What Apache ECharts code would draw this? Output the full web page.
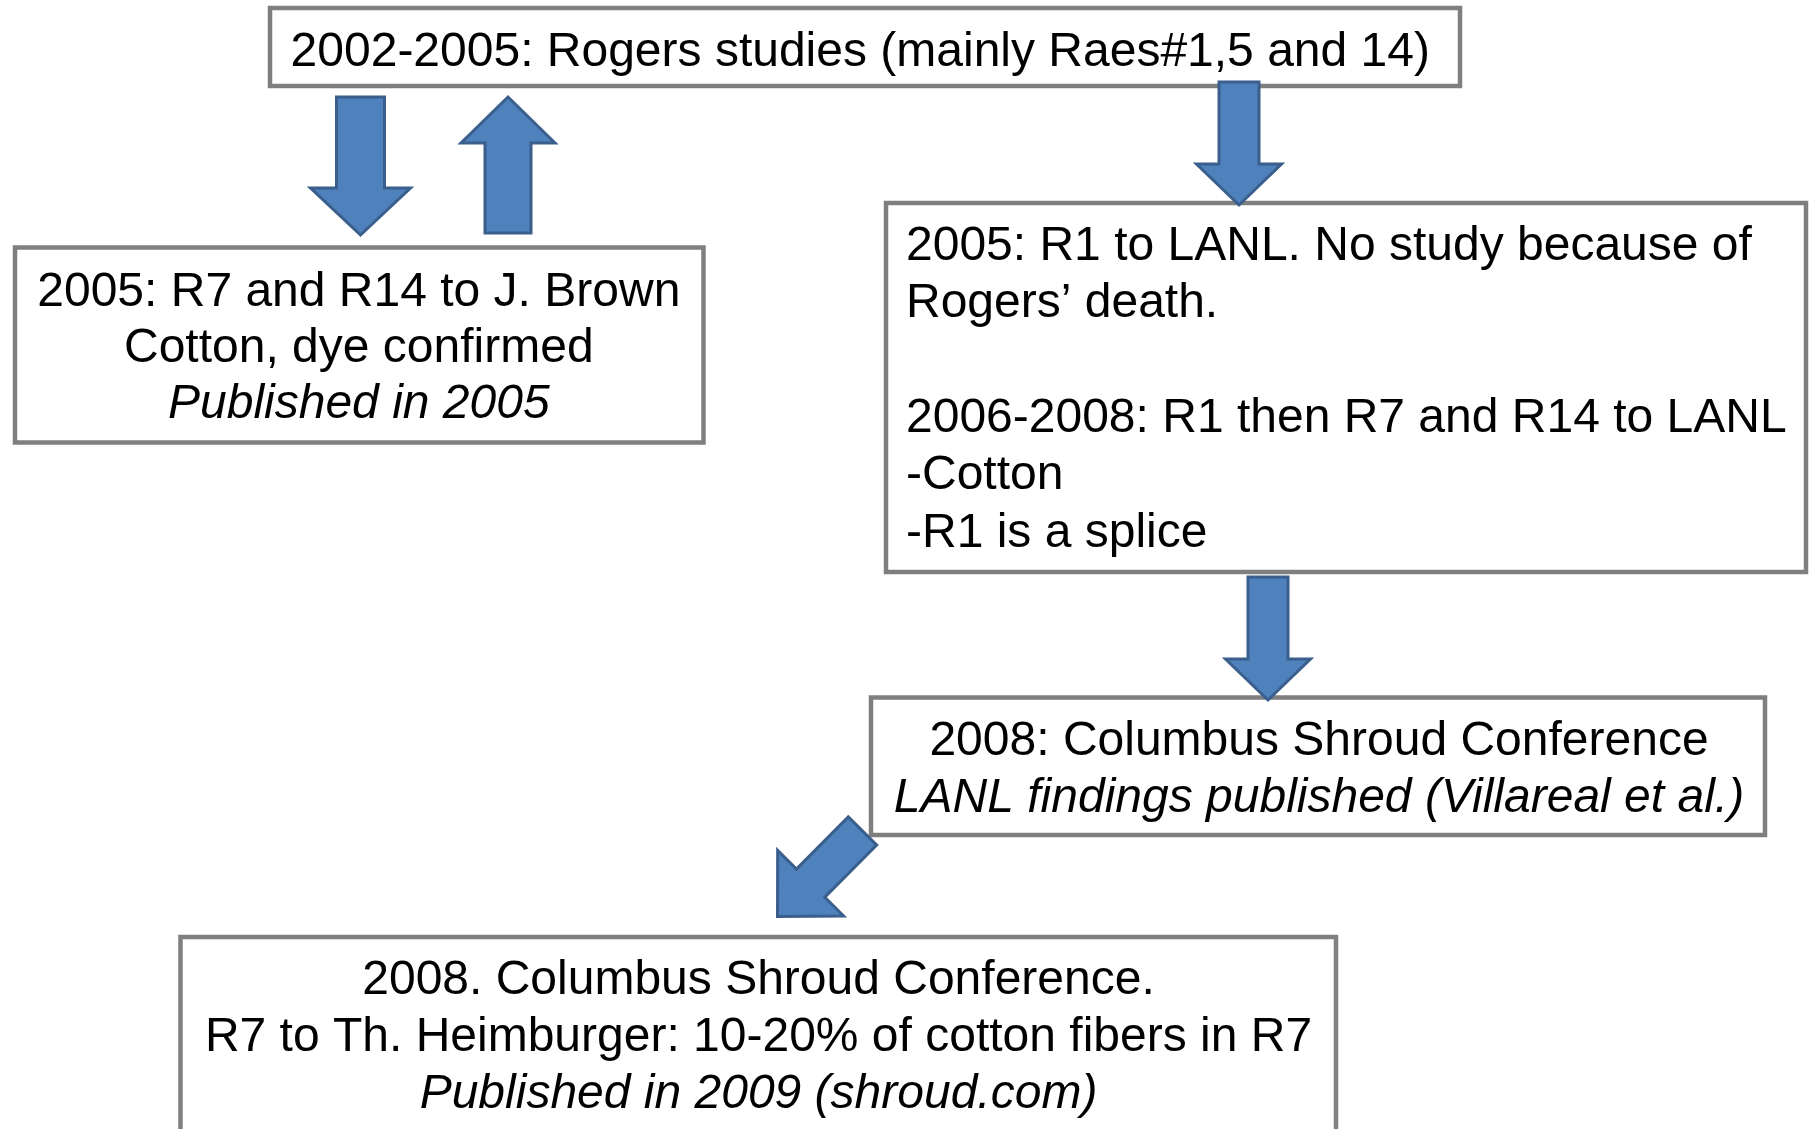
<!DOCTYPE html>
<html>
<head>
<meta charset="utf-8">
<title>Raes samples</title>
<script src="https://cdn.jsdelivr.net/npm/echarts@6/dist/echarts.min.js"></script>
<style>
html, body { margin: 0; padding: 0; background: #fff; }
#main { width: 1809px; height: 1129px; }
</style>
</head>
<body>
<div id="main"></div>
<script>
// box frames [x0, y0, x1, y1] in diagram units (1 unit = 1 px of the picture)
var boxes = [
    [270, 8, 1460, 86],
    [15, 247.5, 703.5, 442.5],
    [886, 203, 1806, 572],
    [871, 697.5, 1765, 835],
    [180.5, 937, 1336, 1145]
];

// block arrows [tailX, tailY, tipX, tipY]
var arrows = [
    [360.5, 97, 360.5, 235],
    [508, 233, 508, 97],
    [1239, 82, 1239, 205],
    [1268, 577, 1268, 700],
    [862.5, 831, 777.5, 916.5]
];
var shaftWidth = [48, 46, 40, 40, 40];
var headWidth = [100, 94, 85, 85, 93];
var headLength = [47, 46, 41, 41, 47];

// text lines: text, italic flag, align, anchor [x, baseline]
var lineText = [
    '2002-2005: Rogers studies (mainly Raes#1,5 and 14)',
    '2005: R7 and R14 to J. Brown',
    'Cotton, dye confirmed',
    'Published in 2005',
    '2005: R1 to LANL. No study because of',
    'Rogers\u2019 death.',
    '2006-2008: R1 then R7 and R14 to LANL',
    '-Cotton',
    '-R1 is a splice',
    '2008: Columbus Shroud Conference',
    'LANL findings published (Villareal et al.)',
    '2008. Columbus Shroud Conference.',
    'R7 to Th. Heimburger: 10-20% of cotton fibers in R7',
    'Published in 2009 (shroud.com)'
];
var lineItalic = [0, 0, 0, 1, 0, 0, 0, 0, 0, 0, 1, 0, 0, 1];
var lineAlign = ['left', 'center', 'center', 'center', 'left', 'left', 'left', 'left', 'left',
    'center', 'center', 'center', 'center', 'center'];
var lineAnchor = [
    [290.6, 65.7],
    [358.8, 306], [358.8, 362], [358.8, 418],
    [906, 260], [906, 317], [906, 432], [906, 489], [906, 547],
    [1319, 755], [1319, 812],
    [758.5, 994], [758.5, 1051], [758.5, 1108]
];

var FONT = 48;
var chart = echarts.init(document.getElementById('main'));

function renderBox(params, api) {
    var b = boxes[params.dataIndex];
    var p0 = api.coord([b[0], b[1]]);
    var p1 = api.coord([b[2], b[3]]);
    return {
        type: 'rect',
        shape: { x: p0[0], y: p0[1], width: p1[0] - p0[0], height: p1[1] - p0[1] },
        style: { fill: '#ffffff', stroke: '#7f7f7f', lineWidth: 4.5 }
    };
}

function renderArrow(params, api) {
    var i = params.dataIndex;
    var a = arrows[i];
    var t = api.coord([a[0], a[1]]);
    var h = api.coord([a[2], a[3]]);
    var dx = h[0] - t[0], dy = h[1] - t[1];
    var len = Math.sqrt(dx * dx + dy * dy);
    var ux = dx / len, uy = dy / len;
    var nx = -uy, ny = ux;
    var sw = shaftWidth[i] / 2, hw = headWidth[i] / 2, hl = headLength[i];
    var neck = [h[0] - ux * hl, h[1] - uy * hl];
    var pts = [
        [t[0] + nx * sw, t[1] + ny * sw],
        [neck[0] + nx * sw, neck[1] + ny * sw],
        [neck[0] + nx * hw, neck[1] + ny * hw],
        h,
        [neck[0] - nx * hw, neck[1] - ny * hw],
        [neck[0] - nx * sw, neck[1] - ny * sw],
        [t[0] - nx * sw, t[1] - ny * sw]
    ];
    return {
        type: 'polygon',
        shape: { points: pts },
        style: { fill: '#4f81bd', stroke: '#3a5f8d', lineWidth: 3, lineJoin: 'miter' }
    };
}

function renderLine(params, api) {
    var i = params.dataIndex;
    var p = api.coord(lineAnchor[i]);
    return {
        type: 'text',
        x: p[0],
        y: p[1] - FONT * 0.275,
        style: {
            text: lineText[i],
            fill: '#000000',
            font: (lineItalic[i] ? 'italic ' : '') + FONT + 'px "Liberation Sans", Arial, sans-serif',
            align: lineAlign[i],
            verticalAlign: 'middle'
        }
    };
}

option = {
    backgroundColor: '#ffffff',
    animation: false,
    grid: { left: 0, right: 0, top: 0, bottom: 0 },
    xAxis: { type: 'value', min: 0, max: 1809, show: false },
    yAxis: { type: 'value', min: 0, max: 1129, inverse: true, show: false },
    series: [
        {
            type: 'custom',
            renderItem: renderBox,
            clip: false,
            data: boxes.map(function (b) { return [b[0], b[1]]; })
        },
        {
            type: 'custom',
            renderItem: renderArrow,
            clip: false,
            data: arrows.map(function (a) { return [a[2], a[3]]; })
        },
        {
            type: 'custom',
            renderItem: renderLine,
            clip: false,
            data: lineAnchor
        }
    ]
};
chart.setOption(option);
</script>
</body>
</html>
